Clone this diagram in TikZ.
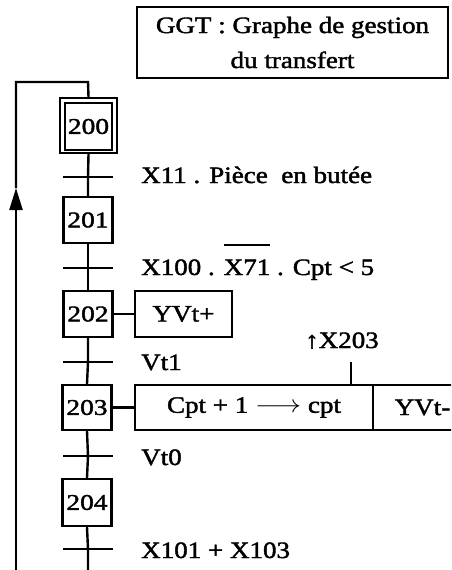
\documentclass[tikz,border=0pt]{standalone}
\usepackage{fontspec}
\usepackage{graphicx}
\setmainfont{Liberation Serif}[FakeBold=1.6]
\usetikzlibrary{arrows.meta}
\newcommand{\wide}[1]{\scalebox{1.15}[1]{#1}}
\newcommand{\wider}[1]{\scalebox{1.22}[1]{#1}}
\newcommand{\ovbar}[1]{\setbox0\hbox{#1}\rlap{\raisebox{29pt}{\rule{\wd0}{1.8pt}}}\box0\relax}
\begin{document}
\begin{tikzpicture}[x=1pt,y=-1pt,line width=2.4pt,
  txt/.style={font=\fontsize{23.5}{35}\selectfont},
  stepbox/.style={draw,font=\fontsize{22.5}{26}\selectfont,minimum width=49pt,minimum height=46pt,inner sep=0pt},
  actbox/.style={draw,txt,minimum height=46pt,inner sep=0pt},
  lbl/.style={txt,anchor=base west,inner sep=0pt},
  trans/.style={fill=black,draw=none,minimum width=50pt,minimum height=2.4pt,inner sep=0pt}]
\useasboundingbox (0,0) rectangle (451,570);
\clip (0,0) rectangle (451,570);
% title
\node[draw,txt,line width=2pt,minimum width=311pt,minimum height=71pt,align=center,inner sep=0pt] (ggt) at (292.5,42.5)
  {\wide{GGT : Graphe de gestion}\\\wide{du transfert}};
% steps
\node[draw,minimum width=57pt,minimum height=55pt,inner sep=0pt] (s200o) at (88.5,125.5) {};
\node[stepbox,minimum width=47pt,minimum height=47pt] (s200) at (88.5,126.5) {\wider{200}};
\node[stepbox] (s201) at (88,220) {\wider{201}};
\node[stepbox] (s202) at (88,314) {\wider{202}};
\node[stepbox,minimum height=45pt] (s203) at (87,407.5) {\wider{203}};
\node[stepbox,minimum height=47pt] (s204) at (87,502.5) {\wider{204}};
% transitions
\node[trans] (t1) at (88,177) {};
\node[trans] (t2) at (88,268) {};
\node[trans] (t3) at (88,362) {};
\node[trans] (t4) at (88,456) {};
\node[trans] (t5) at (88,549) {};
\coordinate (botR) at (88,570);
\draw (s200o.south) -- (t1.center) -- (s201.north);
\draw (s201.south) -- (t2.center) -- (s202.north);
\draw (s202.south) -- (t3.center) -- (s203.north);
\draw (s203.south) -- (t4.center) -- (s204.north);
\draw (s204.south) -- (t5.center) -- (botR);
% loop
\coordinate (botL) at (16,570);
\coordinate (arrtip) at (16,188);
\coordinate (topL) at (16,82);
\coordinate (topR) at (88,82);
\draw[-{Triangle[length=22pt,width=13pt]}] (botL) -- (arrtip);
\draw (arrtip) -- (topL) -- (topR) -- (s200o.north);
% receptivities
\node[lbl] (r1) at (140,183) {\wide{X11 . Pièce\ \ en butée}};
\node[lbl] (r2) at (140,275) {\wide{X100 . \ovbar{X71} . Cpt < 5}};
\node[lbl] (r3) at (140,370) {\wide{Vt1}};
\node[lbl] (r4) at (140,465) {\wide{Vt0}};
\node[lbl] (r5) at (140,558) {\wide{X101 + X103}};
% actions
\node[actbox,minimum width=97pt] (a202) at (183.5,314) {\wide{YVt+}};
\draw (s202.east) -- (a202.west);
\node[actbox,minimum width=238pt,minimum height=45pt] (a203) at (254,407.5) {\wide{Cpt + 1 $\longrightarrow$ cpt}};
\node[actbox,minimum width=99pt,minimum height=45pt] (a203b) at (422.5,407.5) {\wide{YVt-}};
\draw (s203.east) -- (a203.west);
\node[txt,anchor=base,inner sep=0pt] (ev) at (342,348) {\wide{↑X203}};
\coordinate (tk) at (351,362);
\draw (tk) -- (tk |- a203.north);
\end{tikzpicture}
\end{document}
